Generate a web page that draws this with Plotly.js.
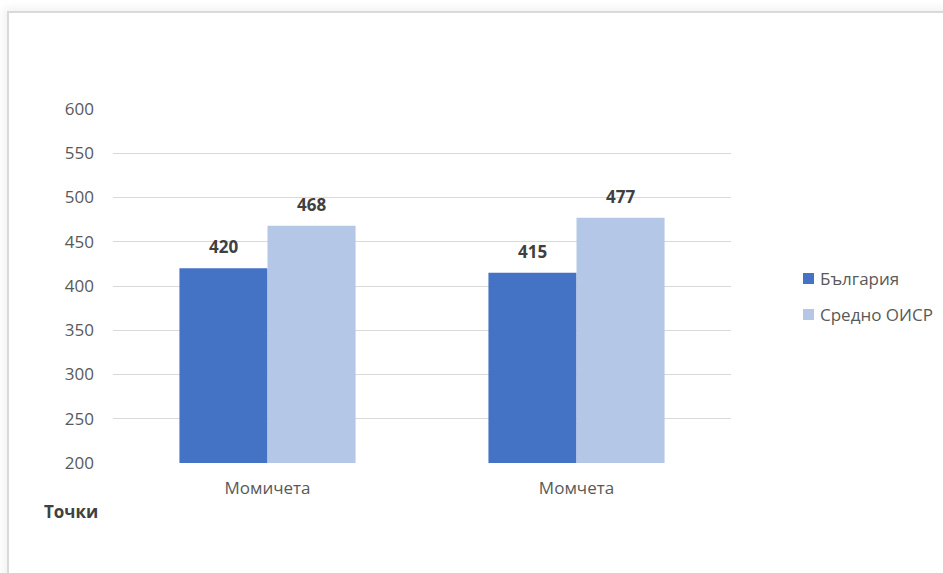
<!DOCTYPE html>
<html>
<head>
<meta charset="utf-8">
<script src="https://cdn.plot.ly/plotly-3.0.1.min.js"></script>
<style>
html,body{margin:0;padding:0;background:#ffffff;overflow:hidden;}
#frame{position:absolute;left:7px;top:11px;width:1000px;height:700px;border:2px solid #d9d9d9;box-shadow:-3px -3px 8px rgba(0,0,0,0.06);}
#chart{position:absolute;left:0;top:0;width:943px;height:573px;}
</style>
</head>
<body>
<div id="frame"></div>
<div id="chart"></div>
<script>
const categories = ["Момичета", "Момчета"];
const seriesNames = ["България", "Средно ОИСР"];
const bulgaria = [420, 415];
const oecd = [468, 477];
const yTicks = [200, 250, 300, 350, 400, 450, 500, 550, 600];
const yAxisTitle = "Точки";
const colors = ["#4472c4", "#b4c7e7"];

const font = "'Open Sans', 'Noto Sans', sans-serif";
const W = 943, H = 573;
const M = {l: 113, r: 212, t: 109, b: 110};
const plotW = W - M.l - M.r, plotH = H - M.t - M.b;
const px2x = p => (p - M.l) / plotW;
const px2y = p => (H - M.b - p) / plotH;

const bargap = 0.43;
const barW = (1 - bargap) / 2;
const series = [bulgaria, oecd];

const traces = series.map((vals, s) => ({
  type: "bar", name: seriesNames[s], x: categories, y: vals,
  marker: {color: colors[s]}, hoverinfo: "none", showlegend: false
}));

const annotations = [];
// value labels above bars
series.forEach((vals, s) => {
  vals.forEach((v, i) => {
    annotations.push({
      xref: "x", yref: "y", x: i + (s === 0 ? -barW / 2 : barW / 2), y: v,
      text: String(v), showarrow: false, xanchor: "center", yanchor: "bottom", yshift: 8,
      font: {family: font, size: 17, color: "#404040", weight: 700}
    });
  });
});
// legend
const legendRows = [278.5, 314.5];
const shapes = [];
seriesNames.forEach((n, s) => {
  const cy = legendRows[s];
  shapes.push({type: "rect", xref: "paper", yref: "paper",
    x0: px2x(803), x1: px2x(814), y0: px2y(cy + 5.5), y1: px2y(cy - 5.5),
    fillcolor: colors[s], line: {width: 0}});
  annotations.push({xref: "paper", yref: "paper", x: px2x(818), y: px2y(cy),
    text: n, showarrow: false, xanchor: "left", yanchor: "middle",
    font: {family: font, size: 17, color: "#595959"}});
});
// axis title
annotations.push({text: yAxisTitle, xref: "paper", yref: "paper", x: px2x(42), y: px2y(511),
  xanchor: "left", yanchor: "middle", showarrow: false,
  font: {family: font, size: 17, color: "#404040", weight: 700}});

const layout = {
  width: W, height: H,
  margin: Object.assign({autoexpand: false}, M),
  paper_bgcolor: "rgba(0,0,0,0)", plot_bgcolor: "rgba(0,0,0,0)",
  barmode: "group", bargap: bargap, bargroupgap: 0,
  font: {family: font, size: 17, color: "#595959"},
  showlegend: false,
  xaxis: {type: "category", showgrid: false, showline: false, ticks: "",
          ticklabelstandoff: 13, tickfont: {size: 17, color: "#595959"}},
  yaxis: {range: [200, 600], tickvals: yTicks, showgrid: true, gridcolor: "#d9d9d9",
          gridwidth: 1, zeroline: false, showline: false, ticks: "",
          ticklabelstandoff: 18, tickfont: {size: 17, color: "#595959"}},
  shapes: shapes,
  annotations: annotations
};

Plotly.newPlot("chart", traces, layout, {displayModeBar: false, staticPlot: true});
</script>
</body>
</html>
